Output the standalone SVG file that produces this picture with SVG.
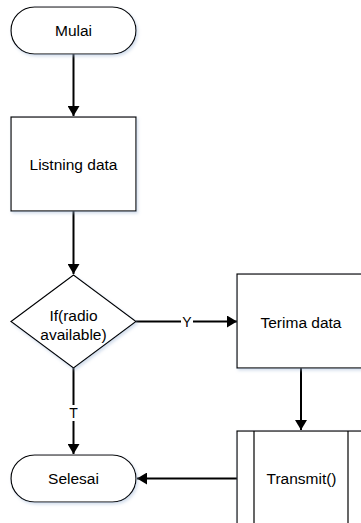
<svg xmlns="http://www.w3.org/2000/svg" width="361" height="523" viewBox="0 0 361 523">
  <style>
    .shape { fill: #ffffff; stroke: #000000; stroke-width: 1.2; filter: url(#shadow); }
    .edge { fill: none; stroke: #000000; stroke-width: 2; }
    .label { font-family: "Liberation Sans", Arial, sans-serif; font-size: 15.5px; fill: #000000; text-anchor: middle; }
    .edge-label { font-family: "Liberation Sans", Arial, sans-serif; font-size: 14px; fill: #000000; text-anchor: middle; }
  </style>
  <defs>
    <filter id="shadow" x="-10%" y="-10%" width="130%" height="130%">
      <feDropShadow dx="1.5" dy="2" stdDeviation="1.5" flood-color="#9fb6d6" flood-opacity="0.45"/>
    </filter>
    <marker id="arrow" viewBox="0 0 10 12" refX="10" refY="6" markerWidth="10" markerHeight="12" markerUnits="userSpaceOnUse" orient="auto">
      <path d="M0,0 L10,6 L0,12 Z" fill="#000000"/>
    </marker>
  </defs>
  <rect width="361" height="523" fill="#ffffff"/>

  <!-- connectors -->
  <g id="connectors">
    <line class="edge" x1="73.5" y1="54" x2="73.5" y2="116" marker-end="url(#arrow)"/>
    <line class="edge" x1="73.5" y1="211" x2="73.5" y2="274" marker-end="url(#arrow)"/>
    <line class="edge" x1="136" y1="321.5" x2="237" y2="321.5" marker-end="url(#arrow)"/>
    <line class="edge" x1="301" y1="368" x2="301" y2="430" marker-end="url(#arrow)"/>
    <line class="edge" x1="73.5" y1="368" x2="73.5" y2="454" marker-end="url(#arrow)"/>
    <line class="edge" x1="237" y1="478.5" x2="137" y2="478.5" marker-end="url(#arrow)"/>
    <!-- branch labels -->
    <rect x="181" y="314" width="12" height="16" fill="#ffffff"/>
    <text class="edge-label" x="187" y="326.5">Y</text>
    <rect x="67" y="405" width="13" height="16" fill="#ffffff"/>
    <text class="edge-label" x="73.5" y="418">T</text>
  </g>

  <g id="mulai">
    <rect class="shape" x="11" y="7" width="125" height="47" rx="23.5" ry="23.5"/>
    <text class="label" x="73.5" y="36">Mulai</text>
  </g>

  <g id="listning">
    <rect class="shape" x="11" y="117" width="125" height="94"/>
    <text class="label" x="73.5" y="170">Listning data</text>
  </g>

  <g id="decision">
    <polygon class="shape" points="73.5,275 136,321.5 73.5,368 11,321.5"/>
    <text class="label" x="73.5" y="321">If(radio</text>
    <text class="label" x="73.5" y="340">available)</text>
  </g>

  <g id="terima">
    <rect class="shape" x="237" y="274" width="127" height="94"/>
    <text class="label" x="301" y="327.5">Terima data</text>
  </g>

  <g id="transmit">
    <rect class="shape" x="237" y="431" width="127" height="110"/>
    <line x1="254" y1="431" x2="254" y2="541" stroke="#000000" stroke-width="1.2"/>
    <line x1="348" y1="431" x2="348" y2="541" stroke="#000000" stroke-width="1.2"/>
    <text class="label" x="301.5" y="484">Transmit()</text>
  </g>

  <g id="selesai">
    <rect class="shape" x="11" y="455" width="125" height="47" rx="23.5" ry="23.5"/>
    <text class="label" x="73.5" y="484">Selesai</text>
  </g>
</svg>
